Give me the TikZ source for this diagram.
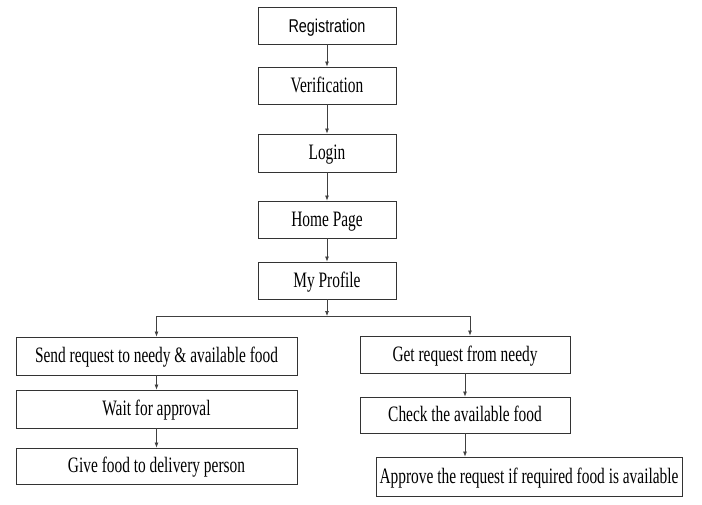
\documentclass[tikz,border=0pt]{standalone}
\usepackage{fontspec}
\setmainfont[FakeStretch=0.70]{Liberation Serif}
\newfontfamily\regfont[FakeStretch=0.78]{Liberation Sans}
\usetikzlibrary{arrows.meta}
\begin{document}
\begin{tikzpicture}[x=1pt,y=-1pt,
  box/.style={draw=black!80, line width=0.9pt, rectangle, inner sep=0pt, text height=17pt, text depth=4pt, font=\fontsize{22}{22}\selectfont},
  conn/.style={draw=black!75, line width=0.7pt, -{Latex[length=5pt,width=4pt]}}]
\useasboundingbox (0,0) rectangle (702,504);
\node[box, minimum width=138pt, minimum height=37pt, font=\regfont\fontsize{18.5}{18.5}\selectfont] (reg) at (327,25.5) {Registration};
\node[box, minimum width=138pt, minimum height=37pt] (ver) at (327,85.5) {Verification};
\node[box, minimum width=138pt, minimum height=38pt] (login) at (327,153) {Login};
\node[box, minimum width=138pt, minimum height=37pt] (home) at (327,219.5) {Home Page};
\node[box, minimum width=138pt, minimum height=37pt] (prof) at (327,280.5) {My Profile};
\node[box, minimum width=281pt, minimum height=38pt] (send) at (156.5,356) {Send request to needy \& available food};
\node[box, minimum width=281pt, minimum height=38pt] (wait) at (156.5,409) {Wait for approval};
\node[box, minimum width=281pt, minimum height=36pt] (give) at (156.5,466) {Give food to delivery person};
\node[box, minimum width=210pt, minimum height=37pt] (get) at (465,354.5) {Get request from needy};
\node[box, minimum width=210pt, minimum height=36pt] (check) at (465,415) {Check the available food};
\node[box, minimum width=306pt, minimum height=39pt] (appr) at (529,476.5) {Approve the request if required food is available};
\coordinate (j) at (327,316);
\draw[conn] (reg) -- (ver);
\draw[conn] (ver) -- (login);
\draw[conn] (login) -- (home);
\draw[conn] (home) -- (prof);
\draw[conn] (prof) -- (j);
\draw[conn] (j) -| (send.north);
\draw[conn] (j) -| ([xshift=5pt]get.north);
\draw[conn] (send) -- (wait);
\draw[conn] (wait) -- (give);
\draw[conn] (get) -- (check);
\draw[conn] (check.south) -- (check.south |- appr.north);
\end{tikzpicture}
\end{document}
